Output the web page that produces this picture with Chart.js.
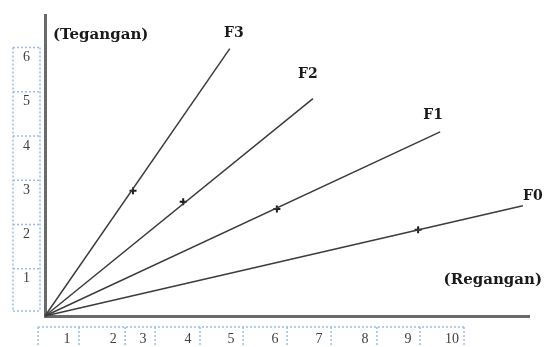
<!DOCTYPE html>
<html>
<head>
<meta charset="utf-8">
<script src="https://cdn.jsdelivr.net/npm/chart.js@4/dist/chart.umd.min.js"></script>
<style>
  html, body { margin: 0; padding: 0; background: #fff; }
  #wrap { width: 545px; height: 347px; position: relative; }
</style>
</head>
<body>
<div id="wrap"><canvas id="myChart"></canvas></div>
<script>
'use strict';

// series (x = regangan, y = tegangan)
const seriesNames = ['F0', 'F1', 'F2', 'F3'];
const endX = [10.86, 8.98, 6.09, 4.20];
const endY = [2.49, 4.16, 4.91, 6.04];
const markX = [8.48, 5.27, 3.14, 2.0];
const markY = [1.95, 2.42, 2.58, 2.83];

// ruler labels
const xTickLabels = ['1', '2', '3', '4', '5', '6', '7', '8', '9', '10'];
const xTickAt = [0.5, 1.55, 2.23, 3.25, 4.23, 5.23, 6.23, 7.27, 8.25, 9.25];
const yTickLabels = ['1', '2', '3', '4', '5', '6'];
const yTickAt = [1, 2, 3, 4, 5, 6];

const yTitle = '(Tegangan)';
const xTitle = '(Regangan)';

// where the F labels sit relative to the line end (px)
const nameNudge = [[10, -9], [-7, -16], [-5, -24], [4, -15]];

const lineColor = '#3c3c3c';
const axisColor = '#6a6a6a';
const boxColor = '#9bbcf0';
const tickFont = { family: 'Liberation Serif', size: 14 };

function buildDatasets() {
    const sets = seriesNames.map((name, i) => ({
        type: 'line',
        label: name,
        data: [{ x: 0, y: 0 }, { x: endX[i], y: endY[i] }],
        borderColor: lineColor,
        borderWidth: 1.5,
        pointRadius: 0,
        fill: false
    }));
    sets.push({
        type: 'scatter',
        label: 'marks',
        data: markX.map((x, i) => ({ x: x, y: markY[i] })),
        pointStyle: 'cross',
        pointRadius: 3.5,
        borderWidth: 2,
        borderColor: '#1e1e1e'
    });
    return sets;
}

// dotted ruler boxes, F names and the two axis titles
const decorPlugin = {
    id: 'decor',
    afterDraw(chart) {
        const ctx = chart.ctx;
        const area = chart.chartArea;
        const xs = chart.scales.x;
        const ys = chart.scales.y;

        ctx.save();
        ctx.strokeStyle = boxColor;
        ctx.lineWidth = 1.5;
        ctx.setLineDash([2, 2]);

        // y ruler
        const bl = area.left - 32, br = area.left - 5;
        const yTop = ys.getPixelForValue(yTickAt[yTickAt.length - 1]) - 3;
        const yBot = ys.getPixelForValue(0) - 5;
        ctx.beginPath();
        ctx.moveTo(bl, yTop); ctx.lineTo(bl, yBot);
        ctx.moveTo(br, yTop); ctx.lineTo(br, yBot);
        ctx.moveTo(bl, yBot); ctx.lineTo(br, yBot);
        yTickAt.forEach(v => {
            const py = ys.getPixelForValue(v) - 3;
            ctx.moveTo(bl, py); ctx.lineTo(br, py);
        });
        ctx.stroke();

        // x ruler
        const top = area.bottom + 11;
        const bottom = chart.height + 5;
        const edges = [area.left - 7].concat(xTickAt.map(v => xs.getPixelForValue(v) + 12));
        ctx.beginPath();
        ctx.moveTo(edges[0], top); ctx.lineTo(edges[edges.length - 1], top);
        edges.forEach(px => {
            ctx.moveTo(px, top); ctx.lineTo(px, bottom);
        });
        ctx.stroke();
        ctx.setLineDash([]);

        // names at the line ends
        ctx.fillStyle = '#1a1a1a';
        ctx.font = 'bold 14px "DejaVu Serif"';
        ctx.textAlign = 'center';
        ctx.textBaseline = 'middle';
        seriesNames.forEach((name, i) => {
            const px = xs.getPixelForValue(endX[i]) + nameNudge[i][0];
            const py = ys.getPixelForValue(endY[i]) + nameNudge[i][1];
            ctx.fillText(name, px, py);
        });

        ctx.font = 'bold 15px "DejaVu Serif"';
        ctx.textAlign = 'left';
        ctx.fillText(yTitle, area.left + 8, area.top + 20);
        ctx.textAlign = 'right';
        ctx.fillText(xTitle, chart.width - 3, area.bottom - 36);
        ctx.restore();
    }
};

const ctx = document.getElementById('myChart').getContext('2d');
const chart = new Chart(ctx, {
    data: { datasets: buildDatasets() },
    options: {
        responsive: true,
        maintainAspectRatio: false,
        animation: false,
        clip: false,
        layout: { padding: { top: 15, right: 16, left: 0, bottom: 0 } },
        plugins: {
            legend: { display: false },
            tooltip: { enabled: false }
        },
        scales: {
            x: {
                type: 'linear',
                min: 0,
                max: 11,
                afterBuildTicks: s => { s.ticks = xTickAt.map(v => ({ value: v })); },
                afterFit: s => { s.height = 31; s.paddingLeft = 0; s.paddingRight = 0; },
                grid: { display: false, drawTicks: false },
                border: { display: true, color: axisColor, width: 3 },
                ticks: {
                    autoSkip: false,
                    maxRotation: 0,
                    padding: 15,
                    color: '#404040',
                    font: tickFont,
                    callback: (v, i) => xTickLabels[i]
                }
            },
            y: {
                type: 'linear',
                min: 0,
                max: 6.8,
                afterBuildTicks: s => { s.ticks = yTickAt.map(v => ({ value: v })); },
                afterFit: s => { s.width = 45; s.paddingTop = 0; s.paddingBottom = 0; },
                grid: { display: false, drawTicks: false },
                border: { display: true, color: axisColor, width: 3 },
                ticks: {
                    autoSkip: false,
                    padding: 15,
                    labelOffset: 7,
                    color: '#404040',
                    font: tickFont,
                    callback: (v, i) => yTickLabels[i]
                }
            }
        }
    },
    plugins: [decorPlugin]
});
</script>
</body>
</html>
